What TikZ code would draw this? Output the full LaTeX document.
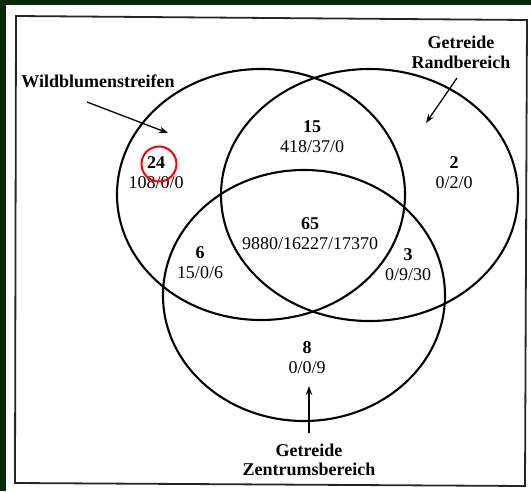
\documentclass[tikz,border=0pt]{standalone}
\usepackage{fontspec}
\setmainfont{Liberation Serif}
\usetikzlibrary{
    arrows.meta
}
\definecolor{scangreen}{RGB}{8,42,8}
\tikzset{
    setline/.style={line width=2.1pt},
    frameline/.style={line width=1.8pt, black!85},
    count/.style={align=center, inner sep=0pt, font=\fontsize{18}{20}\selectfont},
    setname/.style={align=center, inner sep=0pt, font=\fontsize{18}{19.5}\selectfont\bfseries},
    pointer/.style={-{Stealth[length=9pt,width=6.5pt]}, line width=1.3pt}
}

\begin{document}
\begin{tikzpicture}[x=1pt,y=-1pt]
        \useasboundingbox (0,0) rectangle (531,491);
        \fill[scangreen] (0,0) rectangle (531,491);
        \fill[white] (6,5) rectangle (531,491);
        \draw[frameline] (16,16) -- (527,20) -- (525,486) -- (15,483) -- cycle;

        % the three sets
        \draw[setline] (261,194.5) ellipse [x radius=144pt, y radius=125.5pt];
        \draw[setline] (369.5,195) ellipse [x radius=148.5pt, y radius=126pt];
        \draw[setline] (304,295.5) ellipse [x radius=141pt, y radius=125.5pt];

        % counts per region
        \draw (156,173) node[count](wild){\textbf{24}\\108/0/0};
        \draw (312,137) node[count](wildrand){\textbf{15}\\418/37/0};
        \draw (454,173) node[count](rand){\textbf{2}\\0/2/0};
        \draw (310,234) node[count](all){\textbf{65}\\9880/16227/17370};
        \draw (200,263) node[count](wildzent){\textbf{6}\\15/0/6};
        \draw (408,265) node[count](randzent){\textbf{3}\\0/9/30};
        \draw (307,358) node[count](zent){\textbf{8}\\0/0/9};

        \draw (159,164) node[circle, draw=red, line width=2pt, minimum size=35pt](mark){};

        % set names
        \draw (98,81) node[setname](wildname){Wildblumenstreifen};
        \draw (461,52.5) node[setname](randname){Getreide\\Randbereich};
        \draw (309,460) node[setname](zentname){Getreide\\Zentrumsbereich};

        \coordinate (wildtail) at (87,102);
        \coordinate (wildtip) at (168,133);
        \coordinate (randtail) at (457,78);
        \coordinate (randtip) at (426,123);
        \coordinate (zenttail) at (309,433);
        \coordinate (zenttip) at (309,386);

        \draw[pointer] (wildtail) to (wildtip);
        \draw[pointer] (randtail) to (randtip);
        \draw[pointer] (zenttail) to (zenttip);
    \end{tikzpicture}
\end{document}
